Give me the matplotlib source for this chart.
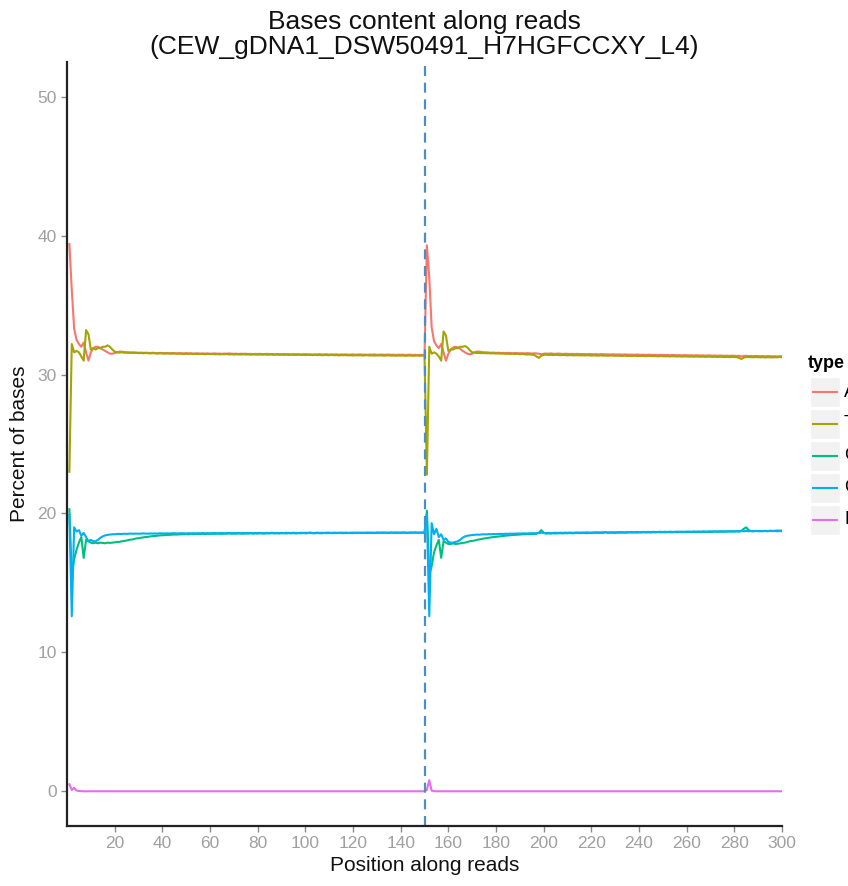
#!/usr/bin/env python
# -*- coding: utf-8 -*-
# bases content along reads, read1 (1-150) + read2 (151-300)

import numpy as np
import matplotlib
matplotlib.use('Agg')
import matplotlib.pyplot as plt
from matplotlib.patches import Rectangle
from matplotlib.lines import Line2D

plt.rcParams['font.family'] = ['Liberation Sans', 'DejaVu Sans']

bases = ['A', 'T', 'G', 'C', 'N']
colors = ['#F8766D', '#A3A500', '#00BF7D', '#00B0F6', '#E76BF3']
title = 'Bases content along reads\n(CEW_gDNA1_DSW50491_H7HGFCCXY_L4)'
read_len = 150

a_read1 = [
    39.4, 36.1, 33.3, 32.5, 32.2, 32.0, 32.3, 31.6, 31.0, 31.6,
    31.9, 32.0, 32.0, 31.9, 31.8, 31.7, 31.6, 31.5, 31.5, 31.55,
    31.6, 31.65, 31.65, 31.62, 31.6, 31.6, 31.58, 31.6, 31.58, 31.57,
    31.58, 31.56, 31.57, 31.56, 31.55, 31.57, 31.55, 31.54, 31.56, 31.55,
    31.54, 31.55, 31.53, 31.55, 31.54, 31.52, 31.54, 31.53, 31.52, 31.54,
    31.52, 31.53, 31.51, 31.52, 31.53, 31.5, 31.52, 31.51, 31.52, 31.5,
    31.51, 31.52, 31.5, 31.51, 31.49, 31.51, 31.5, 31.52, 31.5, 31.49,
    31.5, 31.48, 31.5, 31.49, 31.5, 31.48, 31.49, 31.47, 31.49, 31.48,
    31.49, 31.47, 31.48, 31.49, 31.47, 31.48, 31.46, 31.48, 31.47, 31.46,
    31.48, 31.46, 31.47, 31.45, 31.47, 31.46, 31.47, 31.45, 31.46, 31.47,
    31.45, 31.46, 31.44, 31.46, 31.45, 31.47, 31.44, 31.45, 31.46, 31.44,
    31.45, 31.44, 31.46, 31.43, 31.45, 31.44, 31.45, 31.43, 31.44, 31.45,
    31.43, 31.44, 31.45, 31.43, 31.44, 31.42, 31.44, 31.43, 31.45, 31.42,
    31.43, 31.44, 31.42, 31.43, 31.44, 31.42, 31.43, 31.41, 31.43, 31.42,
    31.43, 31.41, 31.42, 31.43, 31.41, 31.42, 31.4, 31.42, 31.41, 31.42,
]
a_read2 = [
    39.3, 37.0, 33.4, 32.4, 32.1, 31.9, 32.2, 31.6, 31.0, 31.5,
    31.8, 31.95, 32.0, 31.95, 31.85, 31.7, 31.6, 31.5, 31.45, 31.5,
    31.6, 31.65, 31.65, 31.62, 31.6, 31.6, 31.58, 31.57, 31.58, 31.56,
    31.57, 31.55, 31.56, 31.54, 31.56, 31.55, 31.53, 31.55, 31.54, 31.53,
    31.54, 31.52, 31.54, 31.53, 31.51, 31.53, 31.52, 31.5, 31.45, 31.5,
    31.51, 31.5, 31.52, 31.5, 31.49, 31.51, 31.5, 31.48, 31.5, 31.49,
    31.48, 31.49, 31.47, 31.49, 31.48, 31.47, 31.48, 31.46, 31.48, 31.47,
    31.46, 31.47, 31.45, 31.47, 31.46, 31.45, 31.46, 31.44, 31.46, 31.45,
    31.44, 31.45, 31.43, 31.45, 31.44, 31.43, 31.44, 31.42, 31.44, 31.43,
    31.42, 31.43, 31.41, 31.43, 31.42, 31.41, 31.42, 31.4, 31.42, 31.41,
    31.4, 31.41, 31.39, 31.41, 31.4, 31.39, 31.4, 31.38, 31.4, 31.39,
    31.38, 31.39, 31.37, 31.39, 31.38, 31.37, 31.38, 31.36, 31.38, 31.37,
    31.36, 31.37, 31.35, 31.37, 31.36, 31.35, 31.36, 31.34, 31.36, 31.35,
    31.34, 31.35, 31.3, 31.34, 31.35, 31.33, 31.34, 31.32, 31.34, 31.33,
    31.32, 31.33, 31.31, 31.33, 31.32, 31.31, 31.32, 31.3, 31.32, 31.31,
]

t_read1 = [
    23.0, 32.2, 31.6, 31.7, 31.6, 31.3, 31.0, 33.2, 32.9, 31.8,
    31.9, 31.8, 31.9, 31.9, 32.0, 32.0, 32.1, 32.0, 31.8, 31.65,
    31.6, 31.58, 31.6, 31.57, 31.58, 31.56, 31.57, 31.55, 31.56, 31.54,
    31.55, 31.53, 31.55, 31.54, 31.52, 31.54, 31.53, 31.51, 31.53, 31.52,
    31.5, 31.52, 31.51, 31.5, 31.52, 31.49, 31.51, 31.5, 31.48, 31.5,
    31.49, 31.5, 31.48, 31.49, 31.47, 31.49, 31.48, 31.46, 31.48, 31.47,
    31.48, 31.46, 31.47, 31.45, 31.47, 31.46, 31.47, 31.45, 31.46, 31.44,
    31.46, 31.45, 31.44, 31.46, 31.44, 31.45, 31.43, 31.45, 31.44, 31.43,
    31.44, 31.43, 31.45, 31.42, 31.44, 31.43, 31.42, 31.44, 31.42, 31.43,
    31.42, 31.43, 31.41, 31.43, 31.42, 31.41, 31.43, 31.41, 31.42, 31.4,
    31.42, 31.41, 31.4, 31.42, 31.4, 31.41, 31.39, 31.41, 31.4, 31.39,
    31.41, 31.39, 31.4, 31.38, 31.4, 31.39, 31.4, 31.38, 31.39, 31.37,
    31.39, 31.38, 31.39, 31.37, 31.38, 31.39, 31.37, 31.38, 31.36, 31.38,
    31.37, 31.38, 31.36, 31.37, 31.38, 31.36, 31.37, 31.35, 31.37, 31.36,
    31.37, 31.35, 31.36, 31.37, 31.35, 31.36, 31.37, 31.35, 31.36, 31.37,
]
t_read2 = [
    22.8, 32.0, 31.5, 31.6, 31.5, 31.3, 31.0, 33.1, 32.8, 31.7,
    31.8, 31.8, 31.9, 31.9, 32.0, 32.0, 32.05, 31.95, 31.75, 31.6,
    31.57, 31.55, 31.56, 31.54, 31.55, 31.53, 31.54, 31.52, 31.53, 31.51,
    31.52, 31.5, 31.51, 31.49, 31.5, 31.48, 31.5, 31.47, 31.49, 31.46,
    31.47, 31.46, 31.44, 31.45, 31.43, 31.42, 31.3, 31.2, 31.35, 31.42,
    31.43, 31.41, 31.42, 31.4, 31.42, 31.41, 31.39, 31.41, 31.4, 31.38,
    31.4, 31.39, 31.38, 31.4, 31.38, 31.39, 31.37, 31.39, 31.38, 31.36,
    31.38, 31.37, 31.36, 31.38, 31.36, 31.37, 31.35, 31.37, 31.36, 31.35,
    31.36, 31.35, 31.34, 31.36, 31.34, 31.35, 31.33, 31.35, 31.34, 31.33,
    31.34, 31.33, 31.32, 31.34, 31.33, 31.32, 31.33, 31.31, 31.33, 31.32,
    31.31, 31.32, 31.3, 31.32, 31.31, 31.3, 31.31, 31.29, 31.31, 31.3,
    31.29, 31.3, 31.28, 31.3, 31.29, 31.28, 31.29, 31.27, 31.29, 31.28,
    31.27, 31.28, 31.26, 31.28, 31.27, 31.26, 31.27, 31.25, 31.27, 31.26,
    31.25, 31.2, 31.12, 31.22, 31.26, 31.25, 31.26, 31.24, 31.26, 31.25,
    31.24, 31.25, 31.23, 31.25, 31.24, 31.23, 31.25, 31.24, 31.26, 31.25,
]

g_read1 = [
    20.3, 15.5, 16.7, 17.4, 17.9, 18.3, 16.8, 18.1, 18.0, 17.9,
    17.85, 17.9, 17.85, 17.9, 17.88, 17.85, 17.9, 17.88, 17.9, 17.92,
    17.95, 17.95, 18.0, 18.02, 18.05, 18.1, 18.12, 18.15, 18.2, 18.22,
    18.25, 18.28, 18.3, 18.32, 18.35, 18.37, 18.38, 18.4, 18.42, 18.43,
    18.44, 18.45, 18.46, 18.47, 18.48, 18.48, 18.49, 18.5, 18.5, 18.51,
    18.5, 18.52, 18.51, 18.52, 18.53, 18.52, 18.53, 18.52, 18.54, 18.53,
    18.54, 18.53, 18.55, 18.54, 18.53, 18.55, 18.54, 18.56, 18.54, 18.55,
    18.54, 18.56, 18.55, 18.54, 18.56, 18.55, 18.57, 18.55, 18.56, 18.55,
    18.57, 18.56, 18.55, 18.57, 18.56, 18.58, 18.56, 18.57, 18.56, 18.58,
    18.57, 18.56, 18.58, 18.57, 18.58, 18.56, 18.58, 18.57, 18.59, 18.57,
    18.58, 18.62, 18.58, 18.57, 18.59, 18.58, 18.57, 18.59, 18.58, 18.6,
    18.58, 18.59, 18.58, 18.6, 18.59, 18.58, 18.6, 18.59, 18.6, 18.58,
    18.6, 18.59, 18.61, 18.59, 18.6, 18.59, 18.61, 18.6, 18.59, 18.61,
    18.6, 18.62, 18.6, 18.61, 18.6, 18.62, 18.6, 18.61, 18.62, 18.6,
    18.62, 18.61, 18.6, 18.62, 18.61, 18.63, 18.61, 18.62, 18.61, 18.62,
]
g_read2 = [
    20.2, 15.6, 16.2, 17.2, 17.7, 18.1, 16.8, 18.0, 17.9, 17.8,
    17.8, 17.85, 17.8, 17.82, 17.85, 17.88, 17.9, 17.95, 18.0, 18.02,
    18.05, 18.1, 18.13, 18.16, 18.2, 18.22, 18.25, 18.28, 18.3, 18.32,
    18.34, 18.36, 18.38, 18.4, 18.42, 18.43, 18.45, 18.46, 18.47, 18.48,
    18.5, 18.5, 18.52, 18.51, 18.53, 18.52, 18.54, 18.6, 18.8, 18.6,
    18.55, 18.56, 18.55, 18.57, 18.56, 18.57, 18.58, 18.56, 18.58, 18.57,
    18.59, 18.57, 18.58, 18.6, 18.58, 18.59, 18.6, 18.58, 18.6, 18.59,
    18.6, 18.62, 18.6, 18.61, 18.6, 18.66, 18.6, 18.62, 18.61, 18.6,
    18.62, 18.61, 18.63, 18.61, 18.62, 18.64, 18.62, 18.63, 18.62, 18.64,
    18.63, 18.65, 18.63, 18.64, 18.63, 18.65, 18.64, 18.66, 18.64, 18.65,
    18.64, 18.66, 18.65, 18.64, 18.66, 18.65, 18.67, 18.65, 18.66, 18.65,
    18.67, 18.66, 18.68, 18.66, 18.67, 18.66, 18.68, 18.67, 18.69, 18.67,
    18.68, 18.7, 18.68, 18.69, 18.68, 18.7, 18.69, 18.71, 18.69, 18.7,
    18.72, 18.7, 18.75, 18.9, 19.0, 18.8, 18.74, 18.72, 18.74, 18.73,
    18.74, 18.72, 18.75, 18.73, 18.76, 18.74, 18.75, 18.77, 18.76, 18.78,
]

c_read1 = [
    19.9, 12.6, 19.0, 18.7, 18.8, 18.4, 18.6, 18.3, 18.0, 18.1,
    18.0, 18.0, 18.1, 18.25, 18.35, 18.42, 18.46, 18.48, 18.5, 18.5,
    18.52, 18.53, 18.52, 18.54, 18.53, 18.54, 18.55, 18.54, 18.55, 18.54,
    18.55, 18.56, 18.55, 18.54, 18.56, 18.55, 18.56, 18.55, 18.57, 18.56,
    18.56, 18.57, 18.56, 18.57, 18.58, 18.56, 18.57, 18.58, 18.57, 18.56,
    18.58, 18.57, 18.58, 18.56, 18.58, 18.57, 18.59, 18.57, 18.58, 18.57,
    18.58, 18.59, 18.57, 18.58, 18.59, 18.57, 18.58, 18.6, 18.58, 18.59,
    18.58, 18.6, 18.58, 18.59, 18.58, 18.6, 18.59, 18.58, 18.6, 18.59,
    18.6, 18.58, 18.59, 18.6, 18.59, 18.61, 18.59, 18.6, 18.58, 18.6,
    18.59, 18.61, 18.6, 18.59, 18.61, 18.6, 18.59, 18.61, 18.6, 18.61,
    18.6, 18.61, 18.59, 18.6, 18.62, 18.6, 18.61, 18.6, 18.62, 18.61,
    18.6, 18.62, 18.61, 18.6, 18.62, 18.61, 18.62, 18.6, 18.61, 18.62,
    18.61, 18.62, 18.6, 18.62, 18.61, 18.63, 18.61, 18.62, 18.61, 18.63,
    18.62, 18.61, 18.63, 18.62, 18.61, 18.63, 18.62, 18.63, 18.61, 18.62,
    18.63, 18.62, 18.61, 18.63, 18.62, 18.63, 18.62, 18.61, 18.63, 18.62,
]
c_read2 = [
    19.9, 12.6, 19.3, 18.5, 18.9, 18.3, 18.5, 18.1, 18.2, 17.95,
    17.9, 17.9, 17.95, 18.0, 18.1, 18.25, 18.35, 18.4, 18.42, 18.45,
    18.46, 18.48, 18.47, 18.49, 18.5, 18.49, 18.51, 18.5, 18.52, 18.51,
    18.52, 18.53, 18.52, 18.54, 18.53, 18.55, 18.54, 18.55, 18.56, 18.55,
    18.56, 18.57, 18.56, 18.57, 18.58, 18.57, 18.58, 18.6, 18.62, 18.6,
    18.59, 18.6, 18.59, 18.6, 18.61, 18.6, 18.61, 18.6, 18.62, 18.61,
    18.62, 18.61, 18.62, 18.63, 18.62, 18.63, 18.62, 18.64, 18.63, 18.62,
    18.64, 18.63, 18.64, 18.63, 18.65, 18.64, 18.63, 18.65, 18.64, 18.65,
    18.64, 18.66, 18.65, 18.64, 18.66, 18.65, 18.66, 18.65, 18.67, 18.66,
    18.65, 18.67, 18.66, 18.67, 18.66, 18.68, 18.66, 18.67, 18.68, 18.67,
    18.68, 18.67, 18.69, 18.67, 18.68, 18.69, 18.68, 18.69, 18.68, 18.7,
    18.69, 18.68, 18.7, 18.69, 18.7, 18.69, 18.71, 18.69, 18.7, 18.71,
    18.7, 18.71, 18.7, 18.72, 18.71, 18.7, 18.72, 18.71, 18.72, 18.71,
    18.72, 18.71, 18.73, 18.72, 18.74, 18.72, 18.73, 18.72, 18.74, 18.73,
    18.72, 18.74, 18.73, 18.72, 18.74, 18.73, 18.74, 18.72, 18.73, 18.72,
]

n_read1 = [
    0.5, 0.1, 0.25, 0.05, 0.02, 0.01, 0.0, 0.0, 0.0, 0.0,
    0.0, 0.0, 0.0, 0.0, 0.0, 0.0, 0.0, 0.0, 0.0, 0.0,
    0.0, 0.0, 0.0, 0.0, 0.0, 0.0, 0.0, 0.0, 0.0, 0.0,
    0.0, 0.0, 0.0, 0.0, 0.0, 0.0, 0.0, 0.0, 0.0, 0.0,
    0.0, 0.0, 0.0, 0.0, 0.0, 0.0, 0.0, 0.0, 0.0, 0.0,
    0.0, 0.0, 0.0, 0.0, 0.0, 0.0, 0.0, 0.0, 0.0, 0.0,
    0.0, 0.0, 0.0, 0.0, 0.0, 0.0, 0.0, 0.0, 0.0, 0.0,
    0.0, 0.0, 0.0, 0.0, 0.0, 0.0, 0.0, 0.0, 0.0, 0.0,
    0.0, 0.0, 0.0, 0.0, 0.0, 0.0, 0.0, 0.0, 0.0, 0.0,
    0.0, 0.0, 0.0, 0.0, 0.0, 0.0, 0.0, 0.0, 0.0, 0.0,
    0.0, 0.0, 0.0, 0.0, 0.0, 0.0, 0.0, 0.0, 0.0, 0.0,
    0.0, 0.0, 0.0, 0.0, 0.0, 0.0, 0.0, 0.0, 0.0, 0.0,
    0.0, 0.0, 0.0, 0.0, 0.0, 0.0, 0.0, 0.0, 0.0, 0.0,
    0.0, 0.0, 0.0, 0.0, 0.0, 0.0, 0.0, 0.0, 0.0, 0.0,
    0.0, 0.0, 0.0, 0.0, 0.0, 0.0, 0.0, 0.0, 0.0, 0.0,
]
n_read2 = [
    0.1, 0.8, 0.05, 0.01, 0.0, 0.0, 0.0, 0.0, 0.0, 0.0,
    0.0, 0.0, 0.0, 0.0, 0.0, 0.0, 0.0, 0.0, 0.0, 0.0,
    0.0, 0.0, 0.0, 0.0, 0.0, 0.0, 0.0, 0.0, 0.0, 0.0,
    0.0, 0.0, 0.0, 0.0, 0.0, 0.0, 0.0, 0.0, 0.0, 0.0,
    0.0, 0.0, 0.0, 0.0, 0.0, 0.0, 0.0, 0.0, 0.0, 0.0,
    0.0, 0.0, 0.0, 0.0, 0.0, 0.0, 0.0, 0.0, 0.0, 0.0,
    0.0, 0.0, 0.0, 0.0, 0.0, 0.0, 0.0, 0.0, 0.0, 0.0,
    0.0, 0.0, 0.0, 0.0, 0.0, 0.0, 0.0, 0.0, 0.0, 0.0,
    0.0, 0.0, 0.0, 0.0, 0.0, 0.0, 0.0, 0.0, 0.0, 0.0,
    0.0, 0.0, 0.0, 0.0, 0.0, 0.0, 0.0, 0.0, 0.0, 0.0,
    0.0, 0.0, 0.0, 0.0, 0.0, 0.0, 0.0, 0.0, 0.0, 0.0,
    0.0, 0.0, 0.0, 0.0, 0.0, 0.0, 0.0, 0.0, 0.0, 0.0,
    0.0, 0.0, 0.0, 0.0, 0.0, 0.0, 0.0, 0.0, 0.0, 0.0,
    0.0, 0.0, 0.0, 0.0, 0.0, 0.0, 0.0, 0.0, 0.0, 0.0,
    0.0, 0.0, 0.0, 0.0, 0.0, 0.0, 0.0, 0.0, 0.0, 0.0,
]

series = [a_read1 + a_read2, t_read1 + t_read2, g_read1 + g_read2,
          c_read1 + c_read2, n_read1 + n_read2]
pos = np.arange(1, 2 * read_len + 1)

W, H = 848, 886
fig = plt.figure(figsize=(W / 100, H / 100), dpi=100)
ax = fig.add_axes([67 / W, 1 - 826 / H, (782 - 67) / W, (826 - 62) / H])

for name, col, vals in zip(bases, colors, series):
    ax.plot(pos, vals, color=col, lw=1.5, label=name)

ax.axvline(read_len, color='#4B8EC6', lw=1.6, ls=(0, (4.5, 3)))

ax.set_xlim(0, 2 * read_len)
ax.set_ylim(-2.5, 52.5)
ax.set_xticks(np.arange(20, 301, 20))
ax.set_yticks(np.arange(0, 51, 10))

for s in ['top', 'right']:
    ax.spines[s].set_visible(False)
for s in ['left', 'bottom']:
    ax.spines[s].set_linewidth(1.6)
    ax.spines[s].set_color('#222222')
ax.tick_params(colors='#8a8a8a', labelcolor='#a0a0a0', labelsize=12.5,
               length=4, width=1)

ax.set_title(title, fontsize=19, color='#111111', pad=6, linespacing=1.05)
ax.set_xlabel('Position along reads', fontsize=15, color='#111111', labelpad=3)
ax.set_ylabel('Percent of bases', fontsize=15, color='#111111', labelpad=6)

# legend drawn by hand so it runs off the right edge like the original
fig.text(808 / W, 1 - 363 / H, 'type', fontsize=13, fontweight='bold',
         va='center', ha='left')
for i, (name, col) in enumerate(zip(bases, colors)):
    top = 377 + 32 * i
    fig.add_artist(Rectangle((810 / W, 1 - (top + 30) / H), 30 / W, 30 / H,
                             transform=fig.transFigure, facecolor='#F2F2F2',
                             edgecolor='white', lw=1))
    yc = 1 - (top + 15) / H
    fig.add_artist(Line2D([813 / W, 837 / W], [yc, yc], transform=fig.transFigure,
                          color=col, lw=1.5))
    fig.text(844 / W, yc, name, fontsize=13, va='center', ha='left')

fig.savefig('out.png', dpi=100)
